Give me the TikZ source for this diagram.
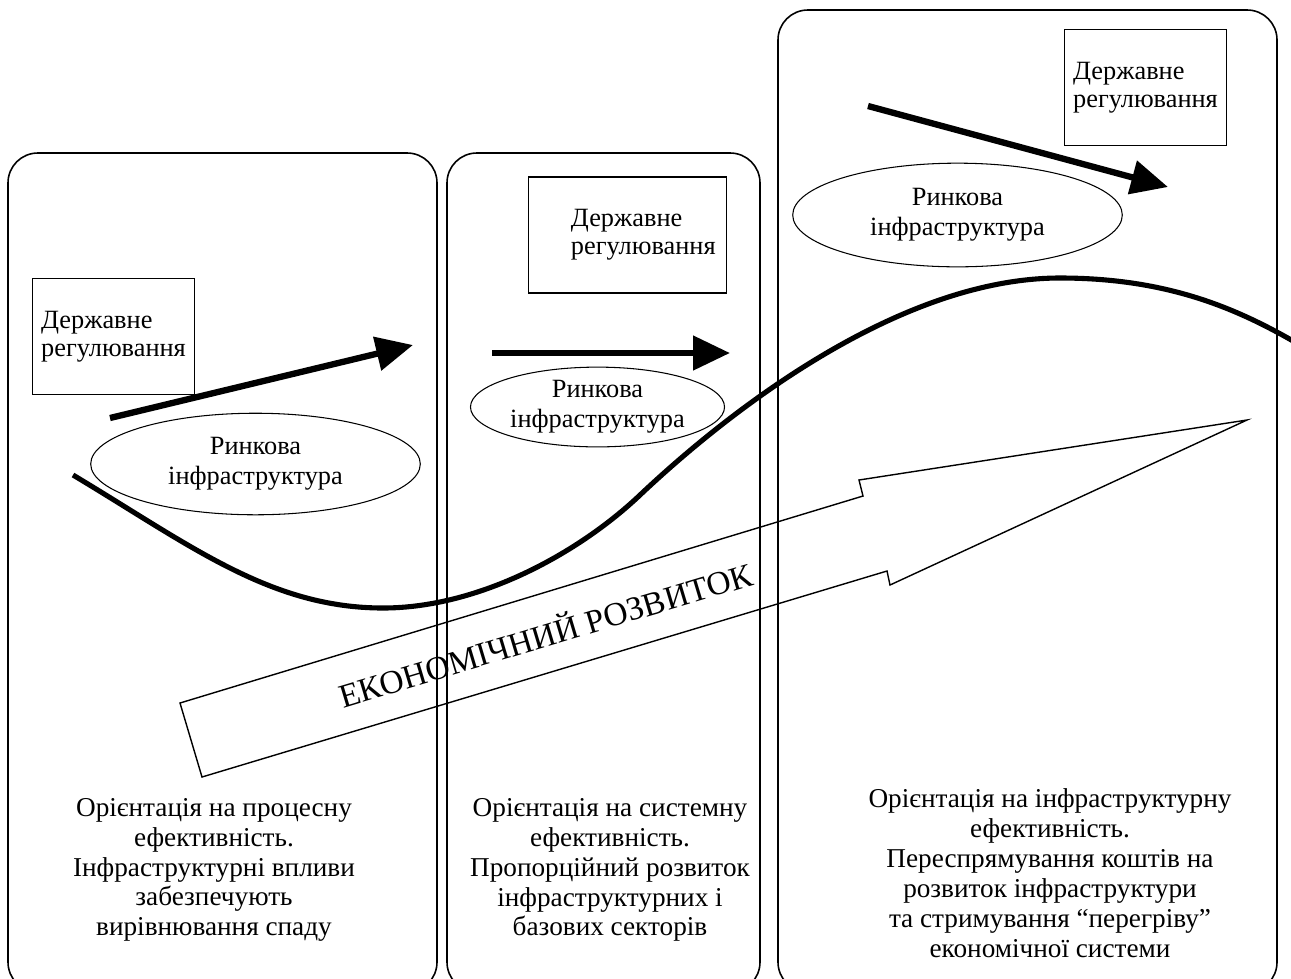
\documentclass[tikz,border=0pt]{standalone}
\usepackage{fontspec}
\setmainfont{Liberation Serif}
\usetikzlibrary{shapes.geometric, arrows.meta}

\begin{document}
\begin{tikzpicture}[x=0.02cm, y=-0.02cm]
    \tikzstyle{stage} = [draw, line width=0.9pt, rounded corners=17pt]
    \tikzstyle{regulation} = [rectangle, draw, line width=0.7pt, minimum
        width=92.4pt, minimum height=66pt, align=left,
        font=\fontsize{15}{16}\selectfont]
    \tikzstyle{market} = [ellipse, draw, line width=0.6pt, inner sep=0pt,
        align=center, font=\fontsize{15}{17}\selectfont]
    \tikzstyle{impulse} = [line width=3.6pt, -{Triangle[length=21pt, width=19pt]}]
    \tikzstyle{outcome} = [align=center, font=\fontsize{15.5}{17}\selectfont]

    \useasboundingbox (0,0) rectangle (1291,978);
    \clip (0,0) rectangle (1291,978);

    % Stages ----------------------------------------
    \draw[stage] (8,153) rectangle (437,992);
    \draw[stage] (447,153) rectangle (760,992);
    \draw[stage] (778,10) rectangle (1277,992);

    % Regulation and market ----------------------------
    \node (R1) at (113.5,336.5) [regulation] {Державне\\регулювання};
    \node (R2) at (627.5,235) [regulation, minimum width=112.8pt] {\hspace*{18pt}Державне\\\hspace*{18pt}регулювання};
    \node (R3) at (1145.5,87.5) [regulation] {Державне\\регулювання};

    \node (M1) at (255.5,464) [market, minimum width=187.6pt, minimum height=57.8pt] {Ринкова\\інфраструктура};
    \node (M2) at (597.5,407) [market, minimum width=144.6pt, minimum height=45.4pt] {Ринкова\\інфраструктура};
    \node (M3) at (957.5,215) [market, minimum width=187.6pt, minimum height=59pt] {Ринкова\\інфраструктура};

    % Impulses
    \coordinate (I1s) at (110,418);
    \coordinate (I1e) at (413,345);
    \coordinate (I2s) at (492,353);
    \coordinate (I2e) at (730,353);
    \coordinate (I3s) at (868,106);
    \coordinate (I3e) at (1168,187);

    \draw[impulse] (I1s) -- (I1e);
    \draw[impulse] (I2s) -- (I2e);
    \draw[impulse] (I3s) -- (I3e);
    % ---------------------------------------------------

    % Cycle
    \draw[line width=2.9pt] (73,475) .. controls (190,545) and (270,608) .. (383,608)
        .. controls (480,608) and (580,552) .. (640,495)
        .. controls (730,410) and (900,278) .. (1060,278)
        .. controls (1170,278) and (1240,310) .. (1300,345);

    % Development arrow ---------------------------------
    \draw[line width=0.8pt, line join=miter] (180,703) -- (863,496) -- (859,480)
        -- (1247,420) -- (890,585) -- (887,571) -- (202,777) -- cycle;
    \node (growth) at (545,633) [rotate=16.7, font=\fontsize{19}{19}\selectfont] {ЕКОНОМІЧНИЙ РОЗВИТОК};

    % Outcomes
    \node (O1) at (214,870) [outcome] {Орієнтація на процесну\\ефективність.\\Інфраструктурні впливи\\забезпечують\\вирівнювання спаду};
    \node (O2) at (610,870) [outcome] {Орієнтація на системну\\ефективність.\\Пропорційний розвиток\\інфраструктурних і\\базових секторів};
    \node (O3) at (1050,873) [outcome] {Орієнтація на інфраструктурну\\ефективність.\\Переспрямування коштів на\\розвиток інфраструктури\\та стримування “перегріву”\\економічної системи};
\end{tikzpicture}
\end{document}
